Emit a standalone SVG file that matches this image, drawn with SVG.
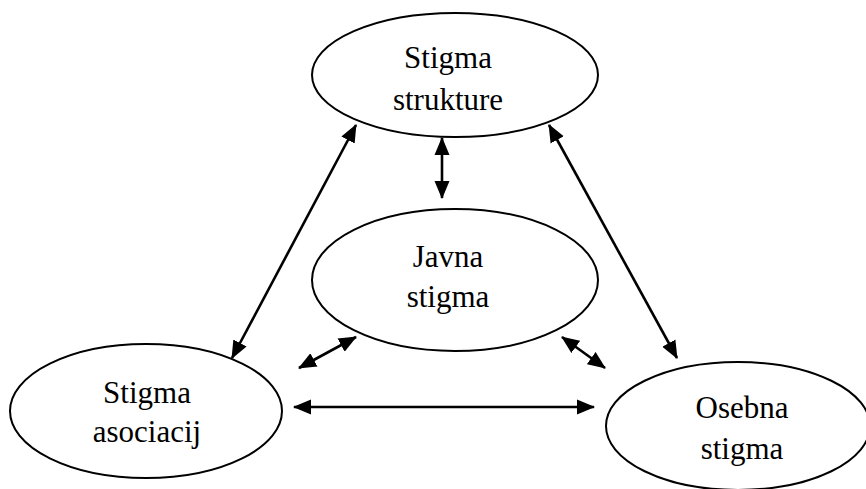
<svg xmlns="http://www.w3.org/2000/svg" width="866" height="489" viewBox="0 0 866 489">
<style>
.node ellipse{fill:#fff;stroke:#000;stroke-width:2}
.node text{font-family:"Liberation Serif","Times New Roman",serif;font-size:31px;fill:#000;text-anchor:middle}
.conn line{stroke:#000;stroke-width:2.6;marker-start:url(#ah);marker-end:url(#ah)}
</style>
<defs>
<marker id="ah" markerUnits="userSpaceOnUse" markerWidth="19" markerHeight="16" refX="17" refY="7.5" orient="auto-start-reverse" viewBox="0 0 19 15">
<path d="M0,0 L18,7.5 L0,15 z" fill="#000"/>
</marker>
</defs>
<rect width="866" height="489" fill="#fff"/>
<g id="n-strukture" class="node">
<ellipse cx="455" cy="75" rx="143" ry="62"/>
<text x="448" y="68">Stigma</text>
<text x="448" y="110">strukture</text>
</g>
<g id="n-javna" class="node">
<ellipse cx="455" cy="280" rx="143" ry="71"/>
<text x="448" y="267">Javna</text>
<text x="448" y="307">stigma</text>
</g>
<g id="n-asociacij" class="node">
<ellipse cx="146" cy="411" rx="136" ry="67"/>
<text x="147" y="403">Stigma</text>
<text x="147" y="442">asociacij</text>
</g>
<g id="n-osebna" class="node">
<ellipse cx="738" cy="426" rx="132" ry="64"/>
<text x="742" y="418">Osebna</text>
<text x="742" y="459">stigma</text>
</g>
<g id="connectors" class="conn">
<line x1="356" y1="125" x2="232" y2="358"/>
<line x1="442" y1="138" x2="442" y2="198"/>
<line x1="549" y1="125" x2="677" y2="358"/>
<line x1="299" y1="368" x2="356" y2="337"/>
<line x1="562" y1="337" x2="605" y2="368"/>
<line x1="294" y1="407" x2="594" y2="407"/>
</g>
</svg>
